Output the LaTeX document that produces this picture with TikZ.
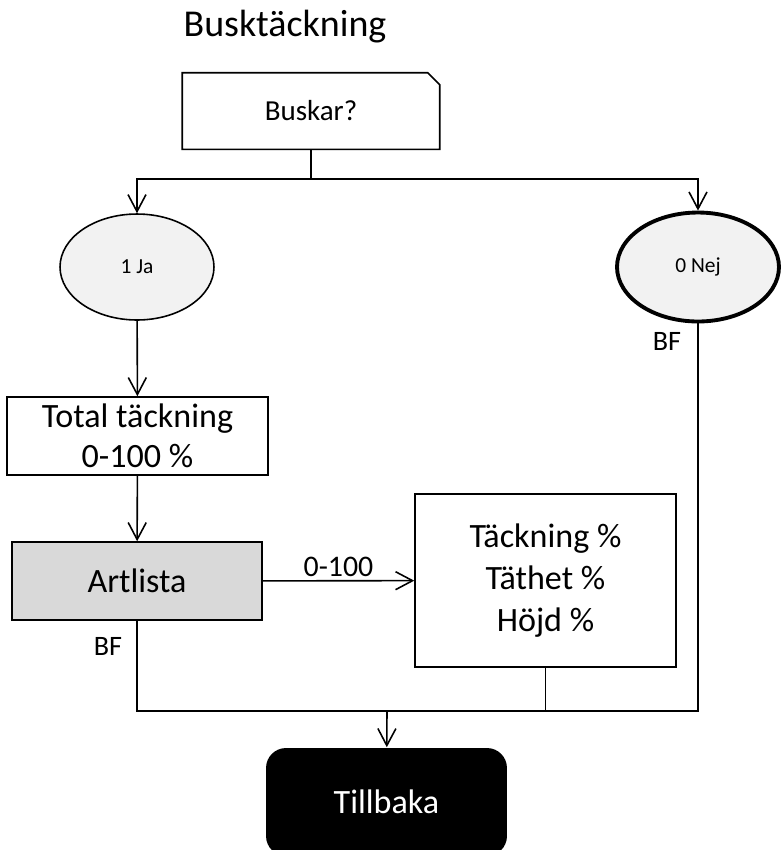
\documentclass[tikz,border=0pt]{standalone}
\usepackage{fontspec}
\setmainfont{Carlito}
\usetikzlibrary{arrows.meta,shapes.geometric}

\tikzset{
  box/.style={rectangle,align=center,inner sep=0pt,
    font=\fontsize{19.4}{23}\selectfont},
  choice/.style={draw,ellipse,fill=black!5,inner sep=0pt,
    font=\fontsize{12.2}{14}\selectfont},
  note/.style={font=\fontsize{16}{19}\selectfont},
  arr/.style={-{Straight Barb[length=0.34cm,width=0.36cm]}}
}

\begin{document}
\begin{tikzpicture}[x=0.02cm,y=-0.02cm,line width=0.9pt]
\clip (0,0) rectangle (782,850);
\node (title) at (285,27) {\fontsize{21.6}{26}\selectfont Busktäckning};

% question and answers
\node[box,minimum width=5.12cm,minimum height=1.5cm,
  font=\fontsize{16.5}{20}\selectfont] (busk) at (311,111) {\raisebox{-3pt}{Buskar?}};
\draw (busk.south west) -- (busk.north west) -- ([xshift=-0.24cm]busk.north east)
  -- ([yshift=-0.24cm]busk.north east) -- (busk.south east) -- cycle;
\node[choice,minimum width=3.08cm,minimum height=2.12cm] (ja) at (137,267) {1 Ja};
\node[choice,line width=2.2pt,minimum width=3.24cm,minimum height=2.18cm] (nej) at (698,267) {0 Nej};

% boxes
\node[box,draw,minimum width=5.22cm,minimum height=1.56cm] (total) at (137.5,436) {Total täckning\\0-100 \%};
\node[box,draw,fill=black!15,minimum width=5cm,minimum height=1.56cm] (art) at (137,581) {Artlista};
\node[box,draw,minimum width=5.22cm,minimum height=3.46cm,
  font=\fontsize{19.4}{24}\selectfont] (tack) at (545.5,580.5)
  {Täckning \%\\Täthet \%\\Höjd \%};
\node[box,fill=black,text=white,rounded corners=0.4cm,minimum width=4.82cm,
  minimum height=2.16cm] (back) at (386.5,802) {Tillbaka};

\node[note] (bfart) at (108,646) {BF};
\node[note] (bfnej) at (667,341) {BF};

% connectors
\coordinate (split) at (311,179);
\coordinate (merge) at (387,711);
\draw (busk.south) -- (split);
\draw[arr] (split) -| (ja.north);
\draw[arr] (split) -| (nej.north);
\draw[arr] (ja) -- (total);
\draw[arr] (total) -- (art);
\draw[arr] (art) -- node[above,font=\fontsize{17}{20}\selectfont,inner sep=2pt] (range) {0-100} (tack);
\draw (art.south) |- (merge);
\draw (nej.south) |- (merge);
\draw (tack.south) -- (tack.south |- merge);
\draw[arr] (merge) -- (back);
\end{tikzpicture}
\end{document}
